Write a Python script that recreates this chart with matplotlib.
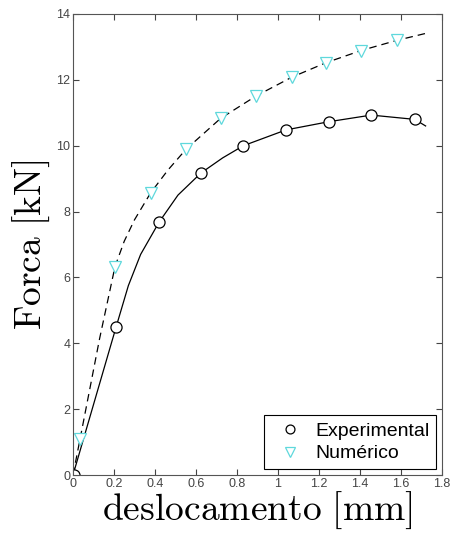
import matplotlib
matplotlib.use("Agg")
import matplotlib.pyplot as plt

# valores
x_exp = [0.005, 0.21, 0.42, 0.624, 0.831, 1.039, 1.249, 1.455, 1.667]
y_exp = [0.0, 4.49, 7.68, 9.17, 10.0, 10.48, 10.73, 10.93, 10.80]
x_exp_line = [0.0, 0.21, 0.27, 0.33, 0.42, 0.512, 0.624, 0.73, 0.831, 1.039, 1.249, 1.455, 1.667, 1.72]
y_exp_line = [0.0, 4.49, 5.75, 6.7, 7.68, 8.5, 9.17, 9.63, 10.0, 10.48, 10.73, 10.93, 10.80, 10.6]

x_num = [0.034, 0.205, 0.379, 0.551, 0.72, 0.893, 1.067, 1.234, 1.405, 1.58]
y_num = [1.08, 6.33, 8.57, 9.89, 10.83, 11.51, 12.08, 12.52, 12.89, 13.2]
x_num_line = [0.0, 0.034, 0.13, 0.205, 0.25, 0.3, 0.379, 0.463, 0.551, 0.72, 0.893, 1.067, 1.234, 1.405, 1.58, 1.72]
y_num_line = [0.0, 1.08, 4.15, 6.33, 7.1, 7.75, 8.57, 9.26, 9.89, 10.83, 11.51, 12.08, 12.52, 12.89, 13.2, 13.41]

xticks = [0, 0.2, 0.4, 0.6, 0.8, 1, 1.2, 1.4, 1.6, 1.8]
yticks = [0, 2, 4, 6, 8, 10, 12, 14]

plt.rcParams['mathtext.fontset'] = 'cm'

fig = plt.figure(figsize=(4.52, 5.40), dpi=100)
ax = fig.add_axes([73/452, 65/540, 369/452, 461/540])

ax.plot(x_exp_line, y_exp_line, '-', color='black', lw=0.9)
ax.plot(x_num_line, y_num_line, '--', color='black', lw=0.9, dashes=(6, 4))
ax.plot(x_exp, y_exp, 'o', ls='none', mfc='white', mec='black', ms=8, mew=0.9, label='Experimental')
ax.plot(x_num, y_num, 'v', ls='none', mfc='white', mec='#5fd8dc', ms=9, mew=0.9, label='Numérico')

ax.set_xlim(0, 1.8)
ax.set_ylim(0, 14)
ax.set_xticks(xticks)
ax.set_xticklabels([f'{t:g}' for t in xticks], family='Liberation Sans')
ax.set_yticks(yticks)
ax.set_yticklabels([f'{t:g}' for t in yticks], family='Liberation Sans')
ax.tick_params(direction='in', top=True, right=True, length=4, labelsize=9, colors='#444444', pad=2)
for s in ax.spines.values():
    s.set_color('#555555')

ax.set_xlabel(r'$\mathrm{deslocamento\ [mm]}$', fontsize=27, labelpad=0)
ax.set_ylabel(r'$\mathrm{Forca\ [kN]}$', fontsize=27, labelpad=3)

leg = ax.legend(loc='lower right', prop={'family': 'Liberation Sans', 'size': 14},
                fancybox=False, edgecolor='black', framealpha=1, borderaxespad=0.3,
                handletextpad=0.3, borderpad=0.35, labelspacing=0.25, handlelength=2.0,
                markerscale=0.8)
leg.get_frame().set_linewidth(0.8)

fig.savefig('out.png', dpi=100)
